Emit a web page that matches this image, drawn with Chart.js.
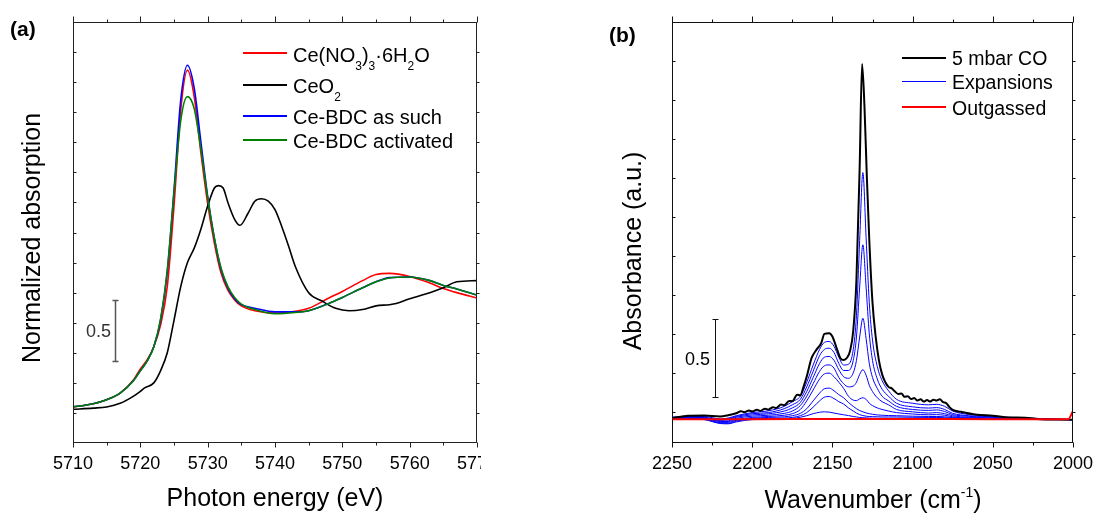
<!DOCTYPE html>
<html>
<head>
<meta charset="utf-8">
<script src="https://cdn.jsdelivr.net/npm/chart.js@4.4.1/dist/chart.umd.min.js"></script>
<style>
html, body { margin: 0; padding: 0; background: #fff; }
body { width: 1096px; height: 513px; position: relative; overflow: hidden;
       font-family: 'Liberation Sans', Arial, sans-serif; color: #000; }
.t { position: absolute; line-height: 1; white-space: nowrap; }
.sub { font-size: 12px; line-height: 1; vertical-align: -8px; }
.sup { font-size: 14px; line-height: 1; vertical-align: 11px; }
.key { position: absolute; width: 44px; }
</style>
</head>
<body>
<div style="position:absolute;left:0;top:0;width:481px;height:513px;overflow:hidden;">
  <canvas id="chartA" width="548" height="513"></canvas>
</div>
<canvas id="chartB" width="548" height="513" style="position:absolute;left:548px;top:0;"></canvas>

<!-- panel (a) texts -->
<div class="t" style="left:10px;top:17.6px;font-size:21px;font-weight:bold;">(a)</div>
<div class="t" style="left:30.5px;top:238px;font-size:25px;transform:translate(-50%,-50%) rotate(-90deg);">Normalized absorption</div>
<div class="t" style="left:275px;top:485px;font-size:25px;transform:translateX(-50%);">Photon energy (eV)</div>
<div class="t" style="left:86px;top:322px;font-size:18px;color:#333;">0.5</div>

<div class="key" style="left:243px;top:52px;height:2px;background:#ff0000;"></div>
<div class="key" style="left:243px;top:84px;height:2px;background:#000000;"></div>
<div class="key" style="left:243px;top:115px;height:2px;background:#0000ff;"></div>
<div class="key" style="left:243px;top:139px;height:2px;background:#008000;"></div>
<div class="t" style="left:293px;top:44.6px;font-size:20px;">Ce(NO<span class="sub">3</span>)<span class="sub">3</span>·6H<span class="sub">2</span>O</div>
<div class="t" style="left:293px;top:76.1px;font-size:20px;">CeO<span class="sub">2</span></div>
<div class="t" style="left:293px;top:107.1px;font-size:20px;">Ce-BDC as such</div>
<div class="t" style="left:293px;top:131.1px;font-size:20px;">Ce-BDC activated</div>

<!-- panel (b) texts -->
<div class="t" style="left:609px;top:24.3px;font-size:21px;font-weight:bold;">(b)</div>
<div class="t" style="left:632px;top:251px;font-size:25px;transform:translate(-50%,-50%) rotate(-90deg);">Absorbance (a.u.)</div>
<div class="t" style="left:873px;top:485px;font-size:25px;transform:translateX(-50%);">Wavenumber (cm<span class="sup">-1</span>)</div>
<div class="t" style="left:685px;top:350px;font-size:18px;">0.5</div>

<div class="key" style="left:902px;top:57px;height:2px;background:#000000;"></div>
<div class="key" style="left:902px;top:81px;height:1px;background:#0000ff;"></div>
<div class="key" style="left:902px;top:106px;height:2px;background:#ff0000;"></div>
<div class="t" style="left:952px;top:49.2px;font-size:19.5px;">5 mbar CO</div>
<div class="t" style="left:952px;top:72.8px;font-size:19.5px;">Expansions</div>
<div class="t" style="left:952px;top:98.5px;font-size:19.5px;">Outgassed</div>

<script>
const FONT = "'Liberation Sans', Arial, sans-serif";

// ---- panel (a): Ce L3-edge XANES ----
const A_E = [5710, 5713, 5715, 5717, 5719, 5720, 5721, 5722, 5723, 5724, 5725, 5726, 5727, 5728, 5729,
  5730, 5731, 5732, 5733, 5734, 5735, 5737, 5740, 5743, 5745, 5748, 5750, 5753, 5755, 5757,
  5760, 5763, 5765, 5767, 5770];
const A_NITRATE = [0.30, 0.327, 0.36, 0.415, 0.526, 0.615, 0.69, 0.80, 0.98, 1.30, 1.97, 2.77, 3.10, 2.88, 2.41,
  1.99, 1.66, 1.41, 1.27, 1.19, 1.14, 1.10, 1.08, 1.095, 1.12, 1.205, 1.26, 1.35, 1.40, 1.41,
  1.385, 1.33, 1.285, 1.25, 1.205];
const A_BDC = [0.30, 0.327, 0.36, 0.415, 0.52, 0.60, 0.68, 0.80, 1.02, 1.42, 2.10, 2.85, 3.14, 2.95, 2.50,
  2.05, 1.70, 1.44, 1.29, 1.20, 1.15, 1.12, 1.09, 1.09, 1.10, 1.16, 1.21, 1.29, 1.34, 1.375,
  1.38, 1.35, 1.31, 1.28, 1.23];
const A_BDC_ACT = [0.30, 0.327, 0.36, 0.415, 0.52, 0.60, 0.68, 0.80, 1.03, 1.44, 2.08, 2.68, 2.88, 2.78, 2.44,
  2.04, 1.70, 1.45, 1.30, 1.21, 1.155, 1.11, 1.075, 1.085, 1.10, 1.16, 1.21, 1.29, 1.34, 1.372,
  1.38, 1.35, 1.31, 1.28, 1.23];
const A_CEO2_E = [5710, 5713, 5715, 5717, 5719, 5720, 5720.7, 5722, 5723, 5724, 5725, 5726, 5727, 5728, 5729,
  5730, 5731, 5731.6, 5732.3, 5733, 5734, 5734.8, 5736, 5737, 5738, 5739, 5740, 5741, 5742, 5743,
  5745, 5747, 5749, 5751, 5753, 5755, 5757, 5758, 5760, 5763, 5765, 5767, 5770];
const A_CEO2 = [0.28, 0.29, 0.30, 0.33, 0.39, 0.43, 0.46, 0.50, 0.60, 0.75, 1.02, 1.30, 1.50, 1.62, 1.78,
  1.97, 2.12, 2.14, 2.12, 2.00, 1.86, 1.81, 1.91, 2.01, 2.03, 2.01, 1.94, 1.80, 1.64, 1.47,
  1.25, 1.18, 1.12, 1.10, 1.11, 1.14, 1.15, 1.16, 1.20, 1.25, 1.29, 1.34, 1.35];
const A_X_MAJOR = [5710, 5720, 5730, 5740, 5750, 5760, 5770];
const A_X_MINOR = [5715, 5725, 5735, 5745, 5755, 5765];
const A_Y_TICKS = [0.25, 0.5, 0.75, 1, 1.25, 1.5, 1.75, 2, 2.25, 2.5, 2.75, 3, 3.25];

// ---- panel (b): FTIR of CO ----
const B_CO_WN = [2250, 2240, 2230, 2220, 2215, 2210, 2207, 2205, 2202, 2200, 2197, 2195, 2192, 2190, 2187,
  2185, 2182, 2180, 2177, 2175, 2172, 2170, 2168, 2166, 2163, 2160, 2157, 2155, 2152, 2150,
  2147, 2145, 2143, 2141, 2139, 2137, 2135, 2133, 2131.5, 2130, 2128.5, 2127, 2125, 2123, 2121,
  2119, 2117, 2115, 2113, 2111, 2109, 2107, 2105, 2103, 2101, 2099, 2097, 2095, 2093, 2091,
  2089, 2087, 2085, 2083, 2081, 2079, 2077, 2075, 2070, 2060, 2050, 2040, 2030, 2020, 2010, 2000];
const B_CO = [-0.041, -0.026, -0.024, -0.03, -0.022, -0.009, 0.004, -0.002, 0.008, 0.002, 0.014, 0.006, 0.02, 0.014, 0.03,
  0.024, 0.047, 0.042, 0.07, 0.068, 0.11, 0.105, 0.16, 0.226, 0.344, 0.397, 0.44, 0.50, 0.504, 0.483,
  0.397, 0.344, 0.333, 0.345, 0.39, 0.52, 0.85, 1.57, 2.231, 1.957, 1.50, 1.10, 0.70, 0.48, 0.33,
  0.24, 0.19, 0.16, 0.15, 0.13, 0.115, 0.118, 0.096, 0.1, 0.082, 0.088, 0.072, 0.08, 0.066, 0.075,
  0.066, 0.078, 0.072, 0.08, 0.062, 0.055, 0.03, 0.013, 0.0, -0.019, -0.025, -0.036, -0.038, -0.047, -0.049, -0.051];
const B_EXP_WN = [2250, 2240, 2230, 2220, 2215, 2210, 2200, 2190, 2180, 2175, 2170, 2166, 2162, 2158, 2155,
  2152, 2149, 2146, 2143, 2140, 2137, 2135, 2133, 2131, 2129, 2127, 2125, 2122, 2119, 2115,
  2110, 2100, 2090, 2085, 2080, 2075, 2070, 2060, 2050, 2040, 2030, 2020, 2010, 2000];
const B_EXP_1 = [-0.035, -0.03, -0.03, -0.045, -0.04, -0.025, -0.005, 0.006, 0.035, 0.065, 0.10, 0.19, 0.30, 0.40, 0.445,
  0.451, 0.42, 0.35, 0.30, 0.305, 0.40, 0.62, 1.10, 1.534, 1.12, 0.70, 0.46, 0.29, 0.20, 0.135,
  0.08, 0.055, 0.045, 0.048, 0.035, 0.005, -0.01, -0.022, -0.028, -0.035, -0.04, -0.043, -0.047, -0.05];
const B_EXP_2 = [-0.035, -0.032, -0.035, -0.05, -0.045, -0.03, -0.012, -0.005, 0.02, 0.045, 0.08, 0.16, 0.26, 0.36, 0.40,
  0.408, 0.38, 0.31, 0.265, 0.265, 0.33, 0.48, 0.80, 1.071, 0.80, 0.50, 0.33, 0.21, 0.145, 0.10,
  0.055, 0.032, 0.024, 0.027, 0.015, -0.01, -0.02, -0.028, -0.032, -0.038, -0.042, -0.045, -0.048, -0.05];
const B_EXP_3 = [-0.036, -0.035, -0.038, -0.055, -0.05, -0.035, -0.02, -0.013, 0.005, 0.025, 0.06, 0.13, 0.22, 0.31, 0.35,
  0.355, 0.33, 0.27, 0.225, 0.215, 0.25, 0.33, 0.48, 0.60, 0.47, 0.31, 0.22, 0.15, 0.10, 0.07,
  0.035, 0.015, 0.009, 0.012, 0.002, -0.018, -0.025, -0.032, -0.036, -0.04, -0.043, -0.046, -0.048, -0.05];
const B_EXP_4 = [-0.038, -0.038, -0.04, -0.06, -0.058, -0.042, -0.028, -0.022, -0.01, 0.005, 0.04, 0.10, 0.18, 0.26, 0.295,
  0.301, 0.28, 0.22, 0.18, 0.16, 0.165, 0.19, 0.24, 0.27, 0.235, 0.17, 0.13, 0.09, 0.065, 0.045,
  0.015, 0.0, -0.008, -0.005, -0.012, -0.025, -0.032, -0.036, -0.04, -0.043, -0.045, -0.047, -0.049, -0.05];
const B_EXP_5 = [-0.04, -0.04, -0.042, -0.062, -0.062, -0.05, -0.036, -0.03, -0.022, -0.012, 0.015, 0.07, 0.14, 0.21, 0.243,
  0.248, 0.225, 0.19, 0.15, 0.10, 0.075, 0.072, 0.083, 0.09, 0.08, 0.055, 0.04, 0.025, 0.015, 0.005,
  -0.005, -0.014, -0.019, -0.018, -0.022, -0.032, -0.037, -0.04, -0.043, -0.045, -0.046, -0.047, -0.049, -0.05];
const B_EXP_6 = [-0.04, -0.04, -0.045, -0.068, -0.068, -0.055, -0.042, -0.036, -0.032, -0.025, -0.01, 0.02, 0.07, 0.12, 0.148,
  0.152, 0.135, 0.11, 0.09, 0.06, 0.035, 0.02, 0.008, 0.0, -0.007, -0.012, -0.016, -0.02, -0.022, -0.024,
  -0.025, -0.028, -0.03, -0.03, -0.032, -0.037, -0.04, -0.042, -0.044, -0.046, -0.047, -0.048, -0.049, -0.05];
const B_EXP_7 = [-0.04, -0.042, -0.047, -0.072, -0.074, -0.06, -0.046, -0.042, -0.04, -0.036, -0.025, -0.005, 0.03, 0.07, 0.094,
  0.098, 0.085, 0.065, 0.05, 0.025, 0.005, -0.008, -0.018, -0.024, -0.028, -0.03, -0.031, -0.032, -0.033, -0.033,
  -0.033, -0.035, -0.036, -0.036, -0.038, -0.041, -0.043, -0.045, -0.046, -0.047, -0.048, -0.049, -0.05, -0.05];
const B_EXP_8 = [-0.042, -0.045, -0.05, -0.075, -0.077, -0.065, -0.05, -0.048, -0.045, -0.042, -0.035, -0.025, -0.012, -0.003, 0.0,
  -0.002, -0.008, -0.014, -0.019, -0.024, -0.03, -0.033, -0.036, -0.038, -0.039, -0.04, -0.041, -0.042, -0.042, -0.042,
  -0.042, -0.042, -0.042, -0.042, -0.043, -0.044, -0.045, -0.046, -0.047, -0.048, -0.049, -0.05, -0.05, -0.05];
const B_OUT_WN = [2250, 2200, 2150, 2100, 2050, 2003, 2000];
const B_OUT = [-0.047, -0.047, -0.046, -0.046, -0.047, -0.047, 0.005];
const B_X_MAJOR = [2250, 2200, 2150, 2100, 2050, 2000];
const B_X_MINOR = [2225, 2175, 2125, 2075, 2025];
const B_Y_TICKS = [0, 0.25, 0.5, 0.75, 1, 1.25, 1.5, 1.75, 2, 2.25];

// frame, mirrored ticks and the 0.5 scale bar
const frameTicks = {
  id: 'frameTicks',
  afterDatasetsDraw(chart, args, o) {
    const { ctx, chartArea: a } = chart;
    const xs = chart.scales.x, ys = chart.scales.y;
    const L = Math.round(a.left) + 0.5, R = Math.round(a.right) - 0.5;
    const T = Math.round(a.top) + 0.5, B = Math.round(a.bottom) - 0.5;
    ctx.save();
    ctx.strokeStyle = o.color;
    ctx.lineWidth = 1;
    ctx.strokeRect(L, T, R - L, B - T);
    ctx.beginPath();
    o.xMajor.forEach(v => {
      const p = Math.round(xs.getPixelForValue(v)) + 0.5;
      ctx.moveTo(p, T); ctx.lineTo(p, T - 6);
      ctx.moveTo(p, B); ctx.lineTo(p, B + 5);
    });
    o.xMinor.forEach(v => {
      const p = Math.round(xs.getPixelForValue(v)) + 0.5;
      ctx.moveTo(p, T); ctx.lineTo(p, T - 3);
      ctx.moveTo(p, B); ctx.lineTo(p, B + 3);
    });
    o.yTicks.forEach(v => {
      const p = Math.round(ys.getPixelForValue(v)) + 0.5;
      ctx.moveTo(L, p); ctx.lineTo(L + 3, p);
      ctx.moveTo(R, p); ctx.lineTo(R + 3, p);
    });
    ctx.stroke();

    const b = o.bar;
    const bx = Math.round(xs.getPixelForValue(b.x)) + 0.5;
    const y0 = Math.round(ys.getPixelForValue(b.y0)) + 0.5;
    const y1 = Math.round(ys.getPixelForValue(b.y1)) + 0.5;
    ctx.strokeStyle = b.color;
    ctx.lineWidth = b.width;
    ctx.beginPath();
    ctx.moveTo(bx, y0); ctx.lineTo(bx, y1);
    ctx.moveTo(bx - 3, y0); ctx.lineTo(bx + 3, y0);
    ctx.moveTo(bx - 3, y1); ctx.lineTo(bx + 3, y1);
    ctx.stroke();
    ctx.restore();
  }
};

const pts = (xs, ys) => xs.map((x, i) => ({ x: x, y: ys[i] }));

function series(label, xs, ys, color, width, order) {
  return {
    label: label, data: pts(xs, ys), borderColor: color, borderWidth: width,
    pointRadius: 0, fill: false, cubicInterpolationMode: 'monotone', order: order
  };
}

function xAxis(min, max, step, reverse) {
  return {
    type: 'linear', min: min, max: max, reverse: reverse,
    grid: { display: false, drawTicks: false }, border: { display: false },
    ticks: { stepSize: step, padding: 10, color: '#000', maxRotation: 0, autoSkip: false,
             font: { family: FONT, size: 18 }, callback: v => String(v) },
    // keep the plot box where the layout padding puts it
    afterFit: s => { s.height = 70; s.paddingLeft = 0; s.paddingRight = 0; }
  };
}

Chart.defaults.font.family = FONT;

new Chart(document.getElementById('chartA'), {
  type: 'line',
  data: {
    datasets: [
      series('Ce(NO3)3·6H2O', A_E, A_NITRATE, '#ff0000', 1.6, 4),
      series('CeO2', A_CEO2_E, A_CEO2, '#000000', 1.6, 3),
      series('Ce-BDC as such', A_E, A_BDC, '#0000ff', 1.6, 2),
      series('Ce-BDC activated', A_E, A_BDC_ACT, '#008000', 1.6, 1)
    ]
  },
  options: {
    responsive: false, animation: false, events: [],
    layout: { padding: { left: 73, top: 22, right: 71, bottom: 0 } },
    plugins: {
      legend: { display: false }, tooltip: { enabled: false },
      frameTicks: { color: '#222', xMajor: A_X_MAJOR, xMinor: A_X_MINOR, yTicks: A_Y_TICKS,
                    bar: { x: 5716.3, y0: 0.68, y1: 1.19, color: '#555', width: 1.5 } }
    },
    scales: {
      x: xAxis(5710, 5770, 10, false),
      y: { type: 'linear', min: 0, max: 3.5, display: false }
    }
  },
  plugins: [frameTicks]
});

const expansions = [B_EXP_1, B_EXP_2, B_EXP_3, B_EXP_4, B_EXP_5, B_EXP_6, B_EXP_7, B_EXP_8];

new Chart(document.getElementById('chartB'), {
  type: 'line',
  data: {
    datasets: [
      series('5 mbar CO', B_CO_WN, B_CO, '#000000', 2, 2),
      ...expansions.map((ys, i) => series(i === 0 ? 'Expansions' : '', B_EXP_WN, ys, '#0000ff', 1, 3)),
      series('Outgassed', B_OUT_WN, B_OUT, '#ff0000', 2, 1)
    ]
  },
  options: {
    responsive: false, animation: false, events: [],
    layout: { padding: { left: 124, top: 22, right: 23, bottom: 0 } },
    plugins: {
      legend: { display: false }, tooltip: { enabled: false },
      frameTicks: { color: '#111', xMajor: B_X_MAJOR, xMinor: B_X_MINOR, yTicks: B_Y_TICKS,
                    bar: { x: 2223, y0: 0.096, y1: 0.596, color: '#111', width: 1 } }
    },
    scales: {
      x: xAxis(2000, 2250, 50, true),
      y: { type: 'linear', min: -0.2, max: 2.5, display: false }
    }
  },
  plugins: [frameTicks]
});
</script>
</body>
</html>
